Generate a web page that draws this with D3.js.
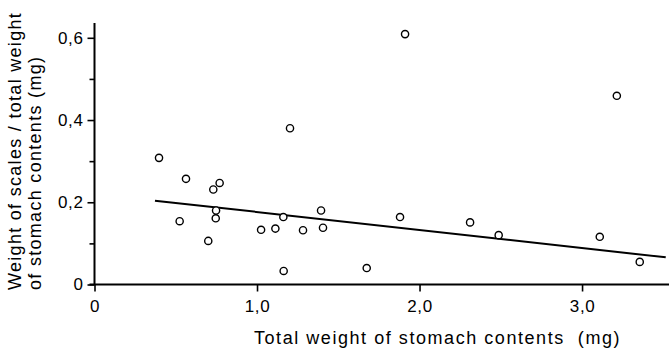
<!DOCTYPE html>
<html>
<head>
<meta charset="utf-8">
<script src="https://cdn.jsdelivr.net/npm/d3@7"></script>
<style>
  html, body { margin: 0; padding: 0; background: #fff; }
  svg { display: block; }
  text { font-family: "Liberation Sans", Arial, sans-serif; fill: #000; }
</style>
</head>
<body>
<svg id="chart" width="669" height="353"></svg>
<script>
// Total weight of stomach contents (mg)
const totalWeight = [0.397, 0.563, 0.770, 0.731, 0.748, 0.746, 0.524, 0.700,
                     1.025, 1.113, 1.162, 1.164, 1.283, 1.394, 1.406, 1.203,
                     1.911, 3.214, 1.675, 1.880, 2.311, 2.487, 3.109, 3.355];
// Weight of scales / total weight of stomach contents
const scaleRatio  = [0.308, 0.257, 0.247, 0.231, 0.180, 0.161, 0.154, 0.106,
                     0.133, 0.136, 0.164, 0.033, 0.132, 0.180, 0.138, 0.380,
                     0.609, 0.459, 0.040, 0.164, 0.151, 0.120, 0.116, 0.055];

// Least-squares line
const fitIntercept = 0.2203;
const fitSlope = -0.0439;
const fitRange = [0.372, 3.515];

// Axis ticks
const xTicks = [0, 1, 2, 3];
const xTickLabels = ["0", "1,0", "2,0", "3,0"];
const yMajorTicks = [0, 0.2, 0.4, 0.6];
const yTickLabels = ["0", "0,2", "0,4", "0,6"];
const yMinorTicks = [0.1, 0.3, 0.5];

const svg = d3.select("#chart");
const x = d3.scaleLinear().domain([0, 3.535]).range([94.5, 669]);
const y = d3.scaleLinear().domain([0, 0.636]).range([284.5, 23]);

// X axis
const xAxis = d3.axisBottom(x)
  .tickValues(xTicks)
  .tickSize(7)
  .tickPadding(8)
  .tickFormat((d, i) => xTickLabels[i]);
const gx = svg.append("g").attr("transform", `translate(0,${y(0)})`).call(xAxis);
gx.select(".domain").attr("d", `M${x(0) - 5},0H669`).attr("stroke-width", 2);
gx.selectAll(".tick line").attr("stroke-width", 1.6);
gx.selectAll(".tick text")
  .attr("font-size", 17).attr("letter-spacing", 0.6)
  .attr("font-family", "Liberation Sans, Arial, sans-serif");

// Y axis: major ticks with labels
const yAxis = d3.axisLeft(y)
  .tickValues(yMajorTicks)
  .tickSize(7)
  .tickPadding(4)
  .tickFormat((d, i) => yTickLabels[i]);
const gy = svg.append("g").attr("transform", `translate(${x(0)},0)`).call(yAxis);
gy.select(".domain").attr("d", `M0,${y(0)}V${y.range()[1]}`).attr("stroke-width", 2);
gy.selectAll(".tick line").attr("stroke-width", 1.6);
gy.selectAll(".tick text")
  .attr("font-size", 17).attr("letter-spacing", 0.6)
  .attr("font-family", "Liberation Sans, Arial, sans-serif");

// Y axis: unlabeled minor ticks
const yMinor = d3.axisLeft(y).tickValues(yMinorTicks).tickSize(5).tickFormat("");
const gym = svg.append("g").attr("transform", `translate(${x(0)},0)`).call(yMinor);
gym.select(".domain").remove();
gym.selectAll(".tick line").attr("stroke-width", 1.6);

// Regression line
const line = d3.line().x(d => x(d)).y(d => y(fitIntercept + fitSlope * d));
svg.append("path")
  .datum(fitRange)
  .attr("d", line)
  .attr("fill", "none")
  .attr("stroke", "#000")
  .attr("stroke-width", 2);

// Observations
svg.append("g").selectAll("circle")
  .data(totalWeight.map((v, i) => [v, scaleRatio[i]]))
  .join("circle")
  .attr("cx", d => x(d[0]))
  .attr("cy", d => y(d[1]))
  .attr("r", 3.6)
  .attr("fill", "#fff")
  .attr("stroke", "#000")
  .attr("stroke-width", 1.4);

// Axis titles
svg.append("text")
  .attr("x", 254).attr("y", 344)
  .attr("font-size", 18).attr("letter-spacing", 1.55)
  .attr("xml:space", "preserve")
  .style("white-space", "pre")
  .text("Total weight of stomach contents  (mg)");

const yTitle = svg.append("text")
  .attr("transform", "translate(21,290) rotate(-90)")
  .attr("font-size", 18).attr("letter-spacing", 1.3);
yTitle.append("tspan").attr("x", 0).attr("y", 0).text("Weight of scales / total weight");
yTitle.append("tspan").attr("x", 0).attr("y", 20).text("of stomach contents (mg)");
</script>
</body>
</html>
